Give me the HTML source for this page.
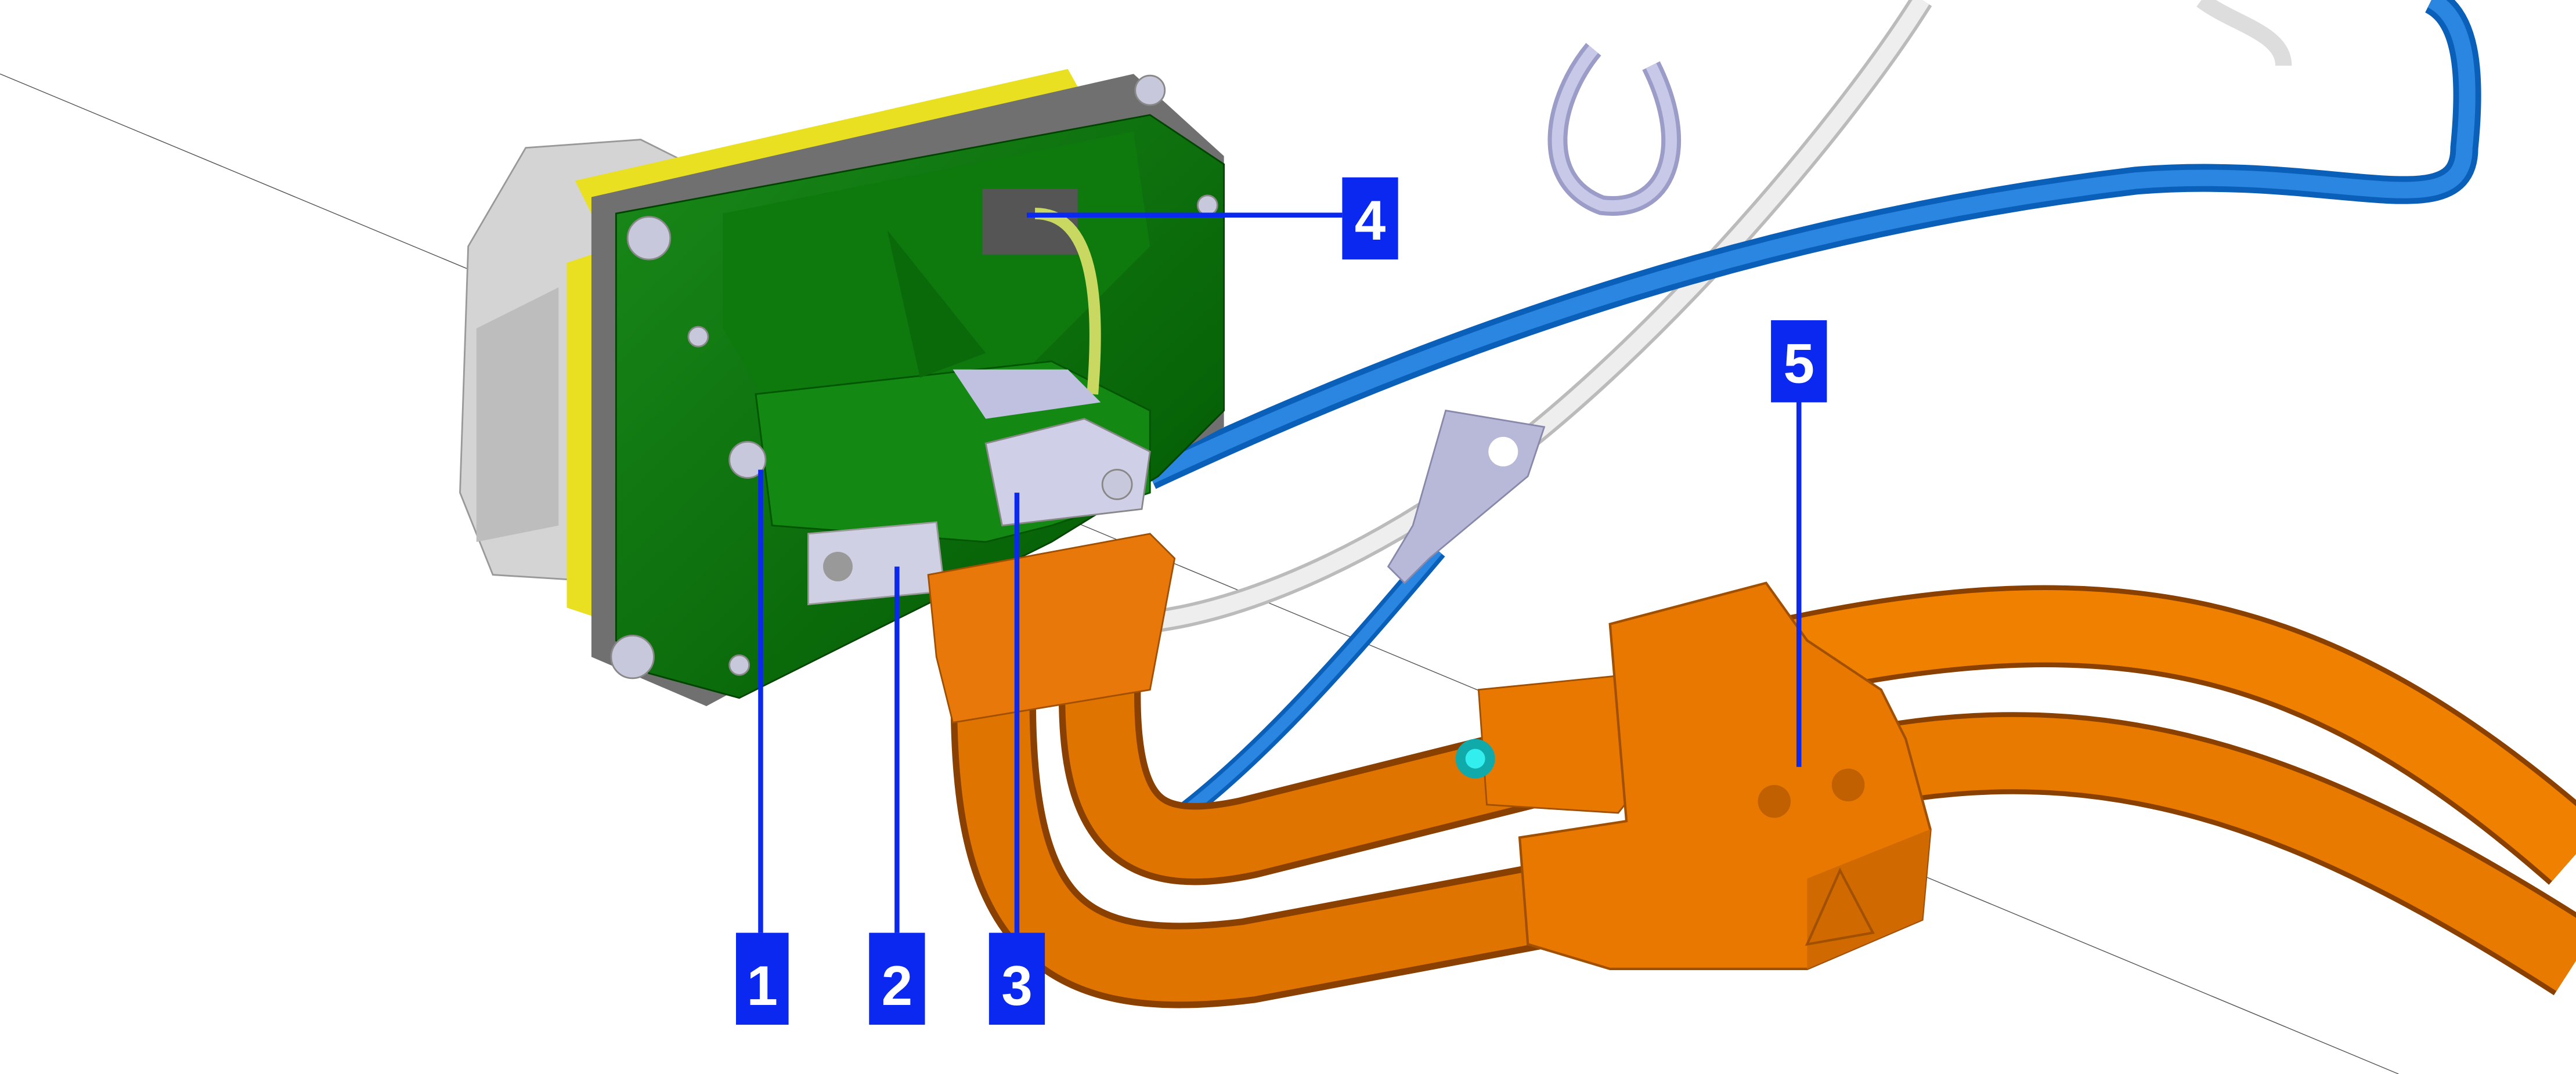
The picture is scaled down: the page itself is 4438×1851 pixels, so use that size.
<!DOCTYPE html>
<html><head><meta charset="utf-8"><style>
html,body{margin:0;padding:0;background:#fff;}
svg{display:block;}
text{font-family:"Liberation Sans",Arial,sans-serif;font-weight:bold;fill:#fff;}
</style></head><body>
<svg width="4438" height="1851" viewBox="0 0 1568 654" preserveAspectRatio="none" xmlns="http://www.w3.org/2000/svg">
<defs>
<linearGradient id="gg" x1="0" y1="0" x2="1" y2="1"><stop offset="0" stop-color="#1a8a1a"/><stop offset="1" stop-color="#005500"/></linearGradient>
</defs>
<rect width="1568" height="654" fill="#fff"/>
<line x1="0" y1="45" x2="1460" y2="654" stroke="#555" stroke-width="0.5"/>
<!-- white cable -->
<path d="M1170,0 C1120,80 1000,220 900,290 C830,340 760,370 705,378" fill="none" stroke="#bbb" stroke-width="14"/>
<path d="M1170,0 C1120,80 1000,220 900,290 C830,340 760,370 705,378" fill="none" stroke="#eee" stroke-width="10"/>
<!-- hook -->
<path d="M970,30 C945,60 935,110 975,125 C1015,130 1030,90 1005,40" fill="none" stroke="#9c9cc8" stroke-width="12"/>
<path d="M970,30 C945,60 935,110 975,125 C1015,130 1030,90 1005,40" fill="none" stroke="#c8c8e8" stroke-width="7"/>
<!-- blue cables -->
<path d="M700,290 C850,220 1050,140 1300,110 C1420,100 1500,140 1500,90 C1505,40 1500,10 1480,0" fill="none" stroke="#0a5fb8" stroke-width="17"/>
<path d="M700,290 C850,220 1050,140 1300,110 C1420,100 1500,140 1500,90 C1505,40 1500,10 1480,0" fill="none" stroke="#2a86e0" stroke-width="10"/>
<path d="M1340,0 C1360,15 1390,20 1390,40" fill="none" stroke="#ddd" stroke-width="10"/>
<path d="M875,335 C820,400 760,470 700,510" fill="none" stroke="#0a5fb8" stroke-width="12"/>
<path d="M875,335 C820,400 760,470 700,510" fill="none" stroke="#2a86e0" stroke-width="7"/>
<!-- ring terminal -->
<path d="M880,250 L940,260 L930,290 L870,340 L855,355 L845,345 L860,320 Z" fill="#b8b8d8" stroke="#8888aa" stroke-width="1"/>
<circle cx="915" cy="275" r="9" fill="#fff"/>
<!-- grey motor -->
<path d="M285,150 L320,90 L390,85 L420,100 L420,330 L380,355 L300,350 L280,300 Z" fill="#d4d4d4" stroke="#999" stroke-width="1"/>
<path d="M290,200 L340,175 L340,320 L290,330 Z" fill="#bdbdbd"/>
<path d="M350,110 L650,42 L660,60 L360,130 Z" fill="#e8e020"/>
<path d="M345,160 L375,150 L375,380 L345,370 Z" fill="#e8e020"/>
<path d="M360,120 L690,45 L745,95 L745,260 L430,430 L360,400 Z" fill="#707070"/>
<path d="M375,130 L700,70 L745,100 L745,250 L705,290 L640,330 L450,425 L395,410 L375,390 Z" fill="url(#gg)" stroke="#004400" stroke-width="1"/>
<path d="M440,130 L690,80 L700,150 L620,230 L470,250 L440,200 Z" fill="#0e7a0e"/>
<path d="M460,240 L640,220 L700,250 L700,300 L640,320 L600,330 L470,320 Z" fill="#138813" stroke="#005500" stroke-width="1"/>
<path d="M540,140 L600,215 L560,230 Z" fill="#0a6a0a"/>
<rect x="598" y="115" width="58" height="40" fill="#555"/>
<path d="M630,130 C665,130 670,180 665,240" fill="none" stroke="#c8d860" stroke-width="7"/>
<path d="M580,225 L650,225 L670,245 L600,255 Z" fill="#c0c0e0"/>
<path d="M600,270 L660,255 L700,275 L695,310 L610,320 Z" fill="#cfcfe8" stroke="#888" stroke-width="1"/>
<path d="M492,325 L570,318 L575,360 L492,368 Z" fill="#d0d0e4" stroke="#999" stroke-width="1"/>
<circle cx="510" cy="345" r="9" fill="#999"/>
<g fill="#c8c8dc" stroke="#888" stroke-width="1">
<circle cx="395" cy="145" r="13"/><circle cx="385" cy="400" r="13"/><circle cx="455" cy="280" r="11"/>
<circle cx="700" cy="55" r="9"/><circle cx="735" cy="125" r="6"/><circle cx="425" cy="205" r="6"/><circle cx="450" cy="405" r="6"/>
<circle cx="680" cy="295" r="9"/>
</g>
<!-- orange pipes -->
<g fill="none" stroke-linecap="butt">
<path d="M1090,400 C1300,355 1420,390 1568,520" stroke="#8a4000" stroke-width="50"/>
<path d="M1090,400 C1300,355 1420,390 1568,520" stroke="#f08000" stroke-width="44"/>
<path d="M1150,465 C1300,440 1420,490 1568,585" stroke="#8a4000" stroke-width="50"/>
<path d="M1150,465 C1300,440 1420,490 1568,585" stroke="#e87a00" stroke-width="44"/>
<path d="M605,400 C600,560 640,600 760,585 L1000,540" stroke="#8a4000" stroke-width="52"/>
<path d="M605,400 C600,560 640,600 760,585 L1000,540" stroke="#e07400" stroke-width="44"/>
<path d="M670,400 C665,500 690,525 760,510 L960,460" stroke="#8a4000" stroke-width="50"/>
<path d="M670,400 C665,500 690,525 760,510 L960,460" stroke="#e07400" stroke-width="42"/>
</g>
<path d="M565,350 L700,325 L715,340 L700,420 L580,440 L570,400 Z" fill="#e8780a" stroke="#a05000" stroke-width="1"/>
<path d="M900,420 L1000,410 L1005,470 L985,495 L905,490 Z" fill="#e87800" stroke="#a05000" stroke-width="1"/>
<circle cx="898" cy="462" r="12" fill="#1aa"/><circle cx="898" cy="462" r="6" fill="#3ee"/>
<path d="M980,380 L1075,355 L1100,390 L1145,420 L1160,450 L1175,505 L1170,560 L1100,590 L980,590 L930,575 L925,510 L990,500 Z" fill="#e87800" stroke="#a05000" stroke-width="1.5"/>
<path d="M1175,505 L1170,560 L1100,590 L1100,535 Z" fill="#d06a00"/>
<circle cx="1080" cy="488" r="10" fill="#c06000"/><circle cx="1125" cy="478" r="10" fill="#c06000"/>
<path d="M1100,575 L1120,530 L1140,568 Z" fill="none" stroke="#a05000" stroke-width="1.5"/>
<g stroke="#0a28f0" stroke-width="3">
<line x1="463" y1="286" x2="463" y2="568"/>
<line x1="546" y1="345" x2="546" y2="568"/>
<line x1="619" y1="300" x2="619" y2="568"/>
<line x1="625" y1="131" x2="817" y2="131"/>
<line x1="1095" y1="244" x2="1095" y2="467"/>
</g>
<g fill="#0a28f0">
<rect x="448" y="568" width="32" height="56"/>
<rect x="529" y="568" width="34" height="56"/>
<rect x="602" y="568" width="34" height="56"/>
<rect x="817" y="108" width="34" height="50"/>
<rect x="1078" y="195" width="34" height="50"/>
</g>
<text x="464" y="612" font-size="34" text-anchor="middle">1</text>
<text x="546" y="612" font-size="34" text-anchor="middle">2</text>
<text x="619" y="612" font-size="34" text-anchor="middle">3</text>
<text x="834" y="146" font-size="34" text-anchor="middle">4</text>
<text x="1095" y="233" font-size="34" text-anchor="middle">5</text>
</svg>
</body></html>
